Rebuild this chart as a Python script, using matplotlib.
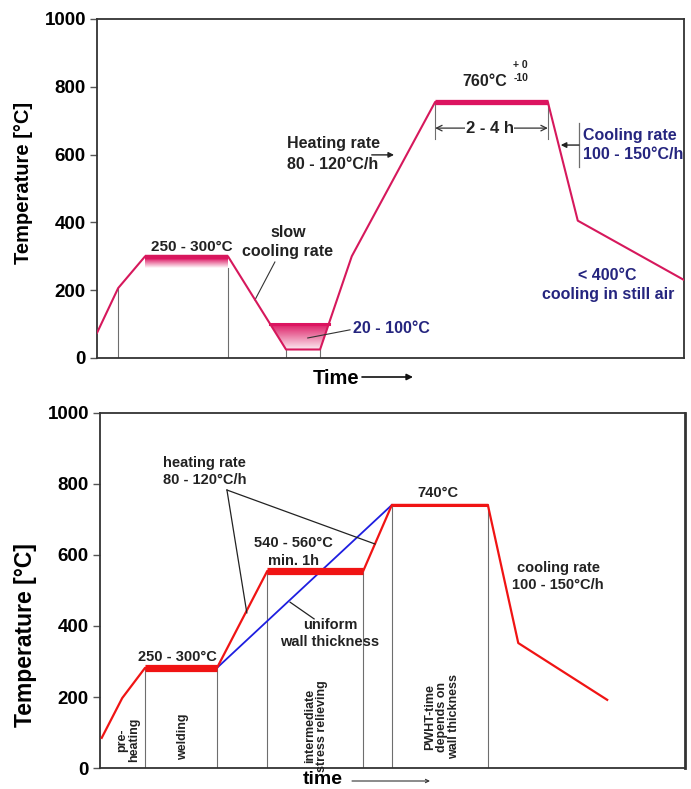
import matplotlib
matplotlib.use("Agg")
import matplotlib.pyplot as plt
import numpy as np
from matplotlib.colors import LinearSegmentedColormap
from matplotlib.patches import Polygon

plt.rcParams['font.family'] = ['Liberation Sans', 'DejaVu Sans']
plt.rcParams['font.weight'] = 'bold'

# --- upper chart: PWHT cycle (time in arbitrary units 0..100) ---
top_time = [0, 3.6, 8.2, 22.3, 32.2, 38.0, 43.4, 57.6, 76.8, 81.9, 100]
top_temp = [74, 206, 300, 300, 25, 25, 300, 755, 755, 405, 230]
top_guides_x = [3.6, 22.3, 32.2, 38.0]
top_guides_y = [206, 265, 25, 25]
hold_band = (8.2, 22.3, 265, 300)          # x0, x1, low, high
trough_poly = [(29.5, 100), (39.5, 100), (38.0, 25), (32.2, 25)]
soak = (57.6, 76.8, 755)

# --- lower chart: with intermediate stress relieving ---
bot_time = [0.3, 3.8, 7.7, 20.0, 28.6, 45.0, 49.9, 66.3, 71.5, 86.7]
bot_temp = [85, 197, 282, 282, 555, 555, 741, 741, 352, 192]
blue_time = [20.0, 49.9]
blue_temp = [282, 741]
bot_guides_x = [7.7, 20.0, 28.6, 45.0, 49.9, 66.3]
bot_guides_y = [282, 282, 555, 555, 741, 741]

yticks = [0, 200, 400, 600, 800, 1000]

line_c = '#d6185c'
band_c = '#dc1460'
navy = '#25257f'
red = '#f01414'
blue = '#1e1ee0'
grey = '#6e6e6e'
ink = '#222222'

fig = plt.figure(figsize=(6.91, 7.89), dpi=100)
ax1 = fig.add_axes([0.1404, 0.5463, 0.8495, 0.4297])
ax2 = fig.add_axes([0.1447, 0.0266, 0.8466, 0.4500])


def style(ax, lab_x, lab_y, lab_size):
    ax.set_xlim(0, 100)
    ax.set_ylim(0, 1000)
    ax.set_xticks([])
    ax.set_yticks(yticks)
    ax.set_yticklabels([str(v) for v in yticks], fontsize=13.5, fontweight='bold')
    ax.tick_params(axis='y', length=5, width=1, color='#555555', pad=3)
    for s in ax.spines.values():
        s.set_color('#333333')
        s.set_linewidth(1.3)
    ax.set_ylabel('Temperature [°C]', fontsize=lab_size, fontweight='bold')
    ax.yaxis.set_label_coords(lab_x, lab_y)


def gradient(ax, x0, x1, y0, y1, c_top, c_bot, clip=None):
    cmap = LinearSegmentedColormap.from_list('g', [c_bot, c_top])
    g = np.linspace(0, 1, 128).reshape(-1, 1)
    im = ax.imshow(g, cmap=cmap, extent=[x0, x1, y0, y1], origin='lower',
                   aspect='auto', zorder=2, interpolation='bilinear')
    if clip is not None:
        im.set_clip_path(clip)


# ---------------- upper chart ----------------
for gx, gy in zip(top_guides_x, top_guides_y):
    ax1.plot([gx, gx], [0, gy], color=grey, lw=0.8, zorder=1)

x0, x1, lo, hi = hold_band
gradient(ax1, x0, x1, lo, hi - 6, band_c, '#ffffff')
ax1.plot([x0, x1], [hi - 3, hi - 3], color=band_c, lw=3.2, zorder=3, solid_capstyle='butt')

trough = Polygon(trough_poly, closed=True, facecolor='none', edgecolor='none')
ax1.add_patch(trough)
gradient(ax1, 29.5, 39.5, 25, 100, band_c, '#fbe6ee', clip=trough)
ax1.plot([29.5, 39.5], [99, 99], color=band_c, lw=2.2, zorder=3)

ax1.plot(top_time, top_temp, color=line_c, lw=1.5, zorder=4)
sx0, sx1, sy = soak
ax1.plot([sx0, sx1], [sy, sy], color=band_c, lw=3.8, zorder=5, solid_capstyle='butt')

# dimension for holding time
for tx in (sx0, sx1):
    ax1.plot([tx, tx], [645, sy], color=grey, lw=0.8, zorder=3)
ax1.annotate('', xy=(sx0, 678), xytext=(sx1, 678),
             arrowprops=dict(arrowstyle='<->', lw=0.9, color='#333333',
                             shrinkA=0, shrinkB=0))
ax1.text(66.9, 678, '2 - 4 h', ha='center', va='center', fontsize=12,
         fontweight='bold', color=ink,
         bbox=dict(facecolor='white', edgecolor='none', pad=0.5), zorder=6)

ax1.text(16.2, 327, '250 - 300°C', ha='center', va='center', fontsize=11,
         fontweight='bold', color=ink)
ax1.text(32.5, 342, 'slow\ncooling rate', ha='center', va='center', fontsize=11.5,
         fontweight='bold', color=ink, linespacing=1.3)
ax1.plot([26.9, 30.3], [171, 283], color='#333333', lw=0.8)

ax1.text(32.4, 602, 'Heating rate\n80 - 120°C/h', ha='left', va='center',
         fontsize=11.5, fontweight='bold', color=ink, linespacing=1.45)
ax1.annotate('', xy=(50.6, 599), xytext=(46.8, 599),
             arrowprops=dict(arrowstyle='-|>', lw=1.0, color=ink,
                             mutation_scale=8, shrinkA=0, shrinkB=0))

ax1.text(66.1, 814, '760°C', ha='center', va='center', fontsize=11.5,
         fontweight='bold', color=ink)
ax1.text(72.1, 864, '+ 0', ha='center', va='center', fontsize=7.5,
         fontweight='bold', color=ink)
ax1.text(72.3, 826, '-10', ha='center', va='center', fontsize=7.5,
         fontweight='bold', color=ink)

ax1.plot([82.1, 82.1], [563, 693], color=grey, lw=0.9)
ax1.annotate('', xy=(79.0, 628), xytext=(82.1, 628),
             arrowprops=dict(arrowstyle='-|>', lw=1.0, color=ink,
                             mutation_scale=8, shrinkA=0, shrinkB=0))
ax1.text(82.8, 628, 'Cooling rate\n100 - 150°C/h', ha='left', va='center',
         fontsize=11.5, fontweight='bold', color=navy, linespacing=1.35)

ax1.text(87.0, 215, '< 400°C\ncooling in still air', ha='center', va='center',
         fontsize=11.5, fontweight='bold', color=navy, linespacing=1.35)

ax1.text(43.6, 88, '20 - 100°C', ha='left', va='center', fontsize=11.5,
         fontweight='bold', color=navy)
ax1.plot([35.9, 43.1], [59, 83], color='#333333', lw=0.8, zorder=5)

style(ax1, -0.109, 0.516, 14.5)

fig.text(313 / 691, 1 - 378 / 789, 'Time', ha='left', va='center',
         fontsize=14.5, fontweight='bold')
ax1.annotate('', xy=(413, 789 - 377), xytext=(362, 789 - 377),
             xycoords='figure pixels', textcoords='figure pixels',
             arrowprops=dict(arrowstyle='-|>', lw=1.2, color='#111111',
                             mutation_scale=9, shrinkA=0, shrinkB=0))

# ---------------- lower chart ----------------
for gx, gy in zip(bot_guides_x, bot_guides_y):
    ax2.plot([gx, gx], [0, gy], color=grey, lw=0.8, zorder=1)

ax2.plot(blue_time, blue_temp, color=blue, lw=1.3, zorder=3)
ax2.plot(bot_time, bot_temp, color=red, lw=1.6, zorder=4)
ax2.plot(bot_time[2:4], bot_temp[2:4], color=red, lw=5.2, zorder=4, solid_capstyle='butt')
ax2.plot(bot_time[4:6], bot_temp[4:6], color=red, lw=5.2, zorder=4, solid_capstyle='butt')
ax2.plot(bot_time[6:8], bot_temp[6:8], color=red, lw=2.2, zorder=4, solid_capstyle='butt')

ax2.text(17.9, 836, 'heating rate\n80 - 120°C/h', ha='center', va='center',
         fontsize=10.5, fontweight='bold', color=ink, linespacing=1.3)
ax2.plot([21.7, 25.1], [783, 437], color=ink, lw=0.9, zorder=5)
ax2.plot([21.7, 47.0], [783, 631], color=ink, lw=0.9, zorder=5)

ax2.text(13.3, 313, '250 - 300°C', ha='center', va='center', fontsize=10.5,
         fontweight='bold', color=ink)
ax2.text(33.0, 608, '540 - 560°C\nmin. 1h', ha='center', va='center',
         fontsize=10.5, fontweight='bold', color=ink, linespacing=1.3)
ax2.text(39.3, 379, 'uniform\nwall thickness', ha='center', va='center',
         fontsize=10.5, fontweight='bold', color=ink, linespacing=1.3)
ax2.plot([32.5, 36.6], [467, 420], color=ink, lw=0.9, zorder=5)
ax2.text(57.8, 775, '740°C', ha='center', va='center', fontsize=10.5,
         fontweight='bold', color=ink)
ax2.text(78.3, 539, 'cooling rate\n100 - 150°C/h', ha='center', va='center',
         fontsize=10.5, fontweight='bold', color=ink, linespacing=1.3)

rot_kw = dict(rotation=90, ha='center', va='center', fontsize=9,
              fontweight='bold', color=ink, linespacing=1.0)
ax2.text(4.8, 79, 'pre-\nheating', **rot_kw)
ax2.text(14.2, 87, 'welding', **rot_kw)
ax2.text(36.9, 118, 'intermediate\nstress relieving', **rot_kw)
ax2.text(58.5, 144, 'PWHT-time\ndepends on\nwall thickness', **rot_kw)

style(ax2, -0.108, 0.375, 16.5)
ax2.spines['right'].set_linewidth(2.0)

fig.text(303 / 691, 1 - 779 / 789, 'time', ha='left', va='center',
         fontsize=14, fontweight='bold')
ax2.annotate('', xy=(430, 789 - 781), xytext=(352, 789 - 781),
             xycoords='figure pixels', textcoords='figure pixels',
             arrowprops=dict(arrowstyle='->', lw=0.8, color='#333333',
                             mutation_scale=6, shrinkA=0, shrinkB=0))

fig.savefig('out.png', dpi=100)
